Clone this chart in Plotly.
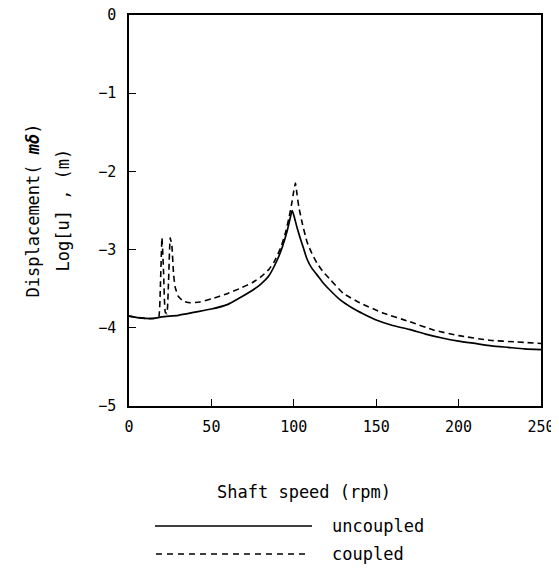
import plotly.graph_objects as go

# Data
uncoupled_x = [0, 5, 10, 15, 20, 30, 40, 50, 60, 67, 75, 80, 85, 90, 93, 96, 98, 99,
               100, 102, 104, 106, 108, 111, 114, 118, 122, 128, 135, 142, 150, 160,
               170, 180, 190, 200, 210, 220, 230, 240, 250]
uncoupled_y = [-3.85, -3.87, -3.88, -3.88, -3.86, -3.84, -3.80, -3.76, -3.70, -3.62,
               -3.52, -3.44, -3.33, -3.13, -2.97, -2.76, -2.58, -2.50, -2.56, -2.72,
               -2.86, -2.99, -3.12, -3.24, -3.32, -3.43, -3.52, -3.64, -3.74, -3.82,
               -3.90, -3.97, -4.02, -4.08, -4.13, -4.17, -4.20, -4.23, -4.25, -4.27, -4.28]

coupled_x = [0, 10, 15, 18, 19, 20, 21, 22, 23, 24, 25, 26, 27, 28, 30, 33, 37, 43, 50,
             60, 67, 75, 80, 85, 88, 92, 95, 97, 99, 100, 101, 102, 103, 105, 108, 111,
             114, 118, 122, 130, 140, 154, 170, 185, 200, 219, 235, 250]
coupled_y = [-3.85, -3.88, -3.88, -3.86, -3.5, -2.85, -3.3, -3.8, -3.82, -3.4, -2.85,
             -2.95, -3.3, -3.48, -3.6, -3.66, -3.68, -3.67, -3.63, -3.56, -3.50, -3.42,
             -3.35, -3.25, -3.16, -2.98, -2.78, -2.6, -2.38, -2.25, -2.15, -2.3, -2.45,
             -2.65, -2.9, -3.05, -3.17, -3.29, -3.38, -3.56, -3.68, -3.81, -3.92, -4.03,
             -4.1, -4.16, -4.18, -4.20]

x_ticks = [0, 50, 100, 150, 200, 250]
y_ticks = [0, -1, -2, -3, -4, -5]
series_names = ["uncoupled", "coupled"]

FONT = "DejaVu Sans Mono"

fig = go.Figure()
fig.add_trace(go.Scatter(x=uncoupled_x, y=uncoupled_y, mode="lines",
                         name=series_names[0],
                         line=dict(color="black", width=1.7, shape="spline",
                                   smoothing=0.6),
                         showlegend=False))
fig.add_trace(go.Scatter(x=coupled_x, y=coupled_y, mode="lines",
                         name=series_names[1],
                         line=dict(color="black", width=1.6, dash="6px,4px",
                                   shape="spline", smoothing=0.4),
                         showlegend=False))

# page offset from the default HTML body margin
OFF = 8
W, H = 559, 568
# plot-area edges in page pixels
L, R, T, B = 129, 541, 15, 406
pw, ph = R - L, B - T

def px(xp):
    return (xp - L) / pw

def py(yp):
    return (B - yp) / ph

axis_common = dict(ticks="inside", ticklen=7, tickwidth=1.2, tickcolor="black",
                   showline=True, linecolor="black", linewidth=1.5, mirror=True,
                   showgrid=False, zeroline=False, automargin=False,
                   ticklabeloverflow="allow", tickfont=dict(size=15))

fig.update_layout(
    width=W, height=H,
    margin=dict(l=L - OFF, r=W - (R - OFF), t=T - OFF, b=H - (B - OFF), autoexpand=False),
    paper_bgcolor="white", plot_bgcolor="white",
    font=dict(family=FONT, color="black", size=15),
    xaxis=dict(range=[0, 250], tickvals=x_ticks, ticklabelstandoff=6, **axis_common),
    yaxis=dict(range=[-5, 0], tickvals=y_ticks, ticklabelstandoff=8, **axis_common),
)

annotations = [
    dict(text="Displacement( <b><i>mδ</i></b>)", x=px(32), y=0.5, textangle=-90),
    dict(text="Log[u] , (m)", x=px(62), y=0.5, textangle=-90),
    dict(text="Shaft speed (rpm)", x=px(304), y=py(492)),
    dict(text=series_names[0], x=px(330), y=py(526), xanchor="left"),
    dict(text=series_names[1], x=px(330), y=py(554), xanchor="left"),
]
for a in annotations:
    a.setdefault("xanchor", "center")
    fig.add_annotation(xref="paper", yref="paper", showarrow=False, yanchor="middle",
                       font=dict(family=FONT, size=17, color="black"), **a)

fig.add_shape(type="line", xref="paper", yref="paper",
              x0=px(155), x1=px(312), y0=py(526), y1=py(526),
              line=dict(color="black", width=1.4))
fig.add_shape(type="line", xref="paper", yref="paper",
              x0=px(156), x1=px(307), y0=py(554), y1=py(554),
              line=dict(color="black", width=1.4, dash="6px,5px"))

fig.write_html("out.html")
